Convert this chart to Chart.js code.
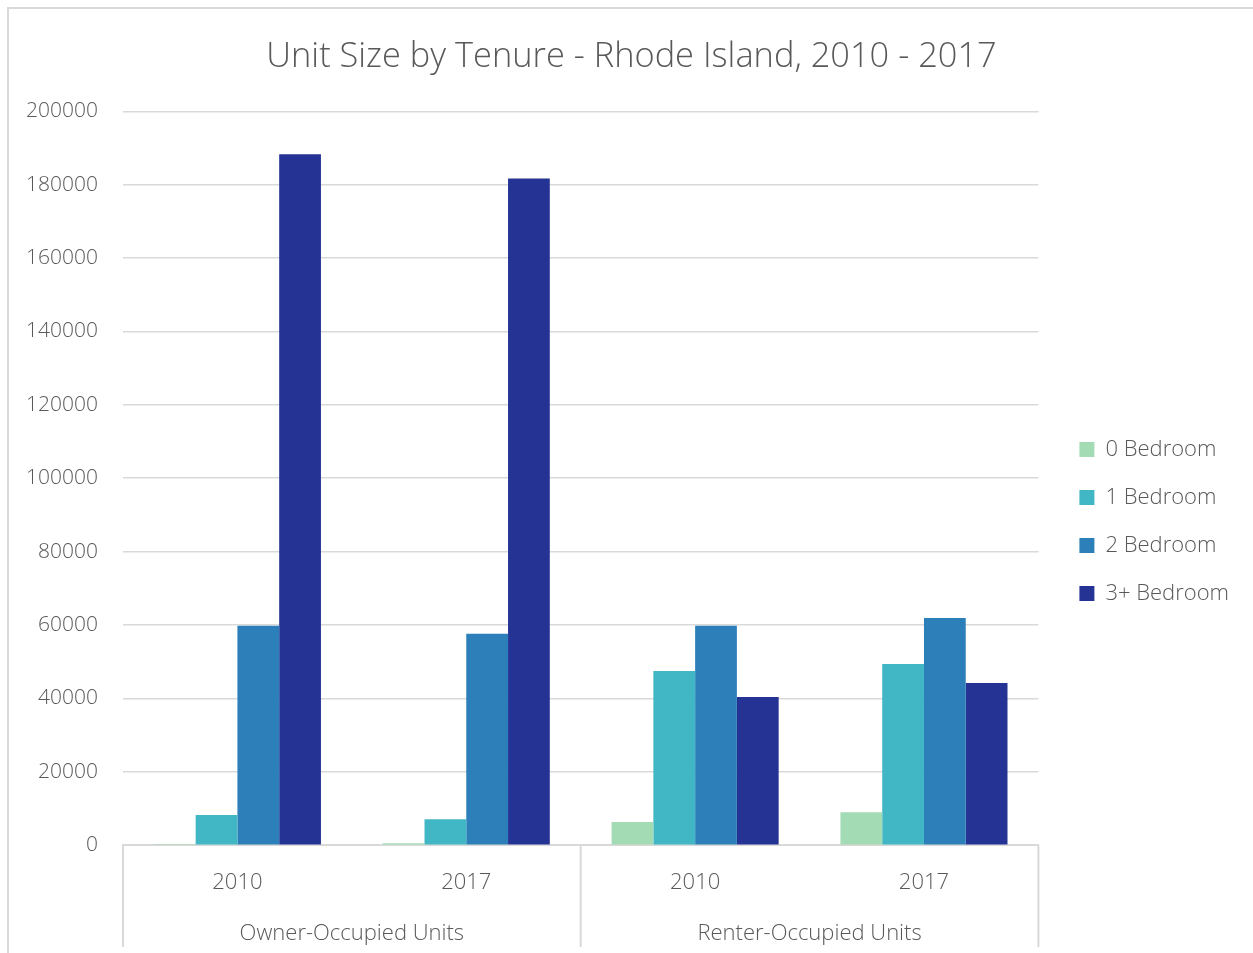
<!DOCTYPE html>
<html>
<head>
<meta charset="utf-8">
<script src="https://cdn.jsdelivr.net/npm/chart.js@4.4.1/dist/chart.umd.min.js"></script>
<style>
body { margin: 0; background: #fff; overflow: hidden; }
#frame { position: absolute; left: 7px; top: 7px; width: 1300px; height: 1000px; border: 2px solid #d9d9d9; }
#wrap { position: absolute; left: 0; top: 0; width: 1253px; height: 953px; }
</style>
</head>
<body>
<div id="frame"></div>
<div id="wrap"><canvas id="unitChart"></canvas></div>
<script>
var years = ["2010", "2017", "2010", "2017"];
var tenures = ["Owner-Occupied Units", "Renter-Occupied Units"];
var seriesNames = ["0 Bedroom", "1 Bedroom", "2 Bedroom", "3+ Bedroom"];
var bed0 = [300, 500, 6300, 9000];
var bed1 = [8200, 7100, 47500, 49400];
var bed2 = [59800, 57600, 59800, 61900];
var bed3 = [188300, 181700, 40400, 44200];
var seriesColors = ["#a3dbb5", "#41b6c4", "#2c7fb8", "#253494"];

var textColor = "#595959";
var fontName = "'Open Sans', 'Noto Sans', sans-serif";

// vertical lines that split the two tenure groups below the axis
var groupLines = {
    id: "groupLines",
    afterDraw: function (chart) {
        var x = chart.scales.x, x2 = chart.scales.x2, ctx = chart.ctx;
        var mid = (x.getPixelForValue(1) + x.getPixelForValue(2)) / 2;
        ctx.save();
        ctx.strokeStyle = "#d9d9d9";
        ctx.lineWidth = 2;
        [x.left, mid, x.right].forEach(function (px) {
            ctx.beginPath();
            ctx.moveTo(px, chart.chartArea.bottom);
            ctx.lineTo(px, x2.bottom - 1);
            ctx.stroke();
        });
        ctx.restore();
    }
};

var allData = [bed0, bed1, bed2, bed3];

new Chart("unitChart", {
    type: "bar",
    data: {
        labels: years,
        datasets: allData.map(function (d, i) {
            return {
                label: seriesNames[i],
                data: d,
                backgroundColor: seriesColors[i],
                borderWidth: 0,
                categoryPercentage: 0.73,
                barPercentage: 1.0
            };
        })
    },
    plugins: [groupLines],
    options: {
        responsive: true,
        maintainAspectRatio: false,
        animation: false,
        layout: {
            padding: { left: 24, right: 14, top: 37, bottom: 5 }
        },
        plugins: {
            title: {
                display: true,
                text: "Unit Size by Tenure - Rhode Island, 2010 - 2017",
                color: textColor,
                font: { family: fontName, size: 34.4, weight: 300 },
                padding: { top: 0, bottom: 33 }
            },
            legend: {
                position: "right",
                align: "center",
                title: {
                    display: true,
                    text: "",
                    font: { size: 10 },
                    padding: 23
                },
                labels: {
                    color: textColor,
                    font: { family: fontName, size: 22, weight: 300 },
                    boxWidth: 15,
                    boxHeight: 15,
                    padding: 26
                }
            },
            tooltip: { enabled: false }
        },
        scales: {
            y: {
                min: 0,
                max: 200000,
                ticks: {
                    stepSize: 20000,
                    color: textColor,
                    font: { family: fontName, size: 21, weight: 300 },
                    padding: 25,
                    callback: function (v) { return String(v); }
                },
                grid: {
                    color: "#d9d9d9",
                    lineWidth: 1.5,
                    drawTicks: false
                },
                border: { display: false },
                afterFit: function (axis) { axis.width = 99; }
            },
            // empty axis, only keeps a gap between the plot and the legend
            gap: {
                type: "linear",
                position: "right",
                ticks: { display: false },
                grid: { display: false, drawTicks: false },
                border: { display: false },
                afterFit: function (axis) { axis.width = 15; }
            },
            x: {
                ticks: {
                    color: textColor,
                    font: { family: fontName, size: 22, weight: 300 },
                    padding: 24
                },
                grid: { display: false, drawTicks: false },
                border: { color: "#d9d9d9", width: 2 }
            },
            x2: {
                type: "category",
                position: "bottom",
                labels: tenures,
                ticks: {
                    color: textColor,
                    font: { family: fontName, size: 22, weight: 300 },
                    padding: 1
                },
                grid: { display: false, drawTicks: false },
                border: { display: false }
            }
        }
    }
});
</script>
</body>
</html>
